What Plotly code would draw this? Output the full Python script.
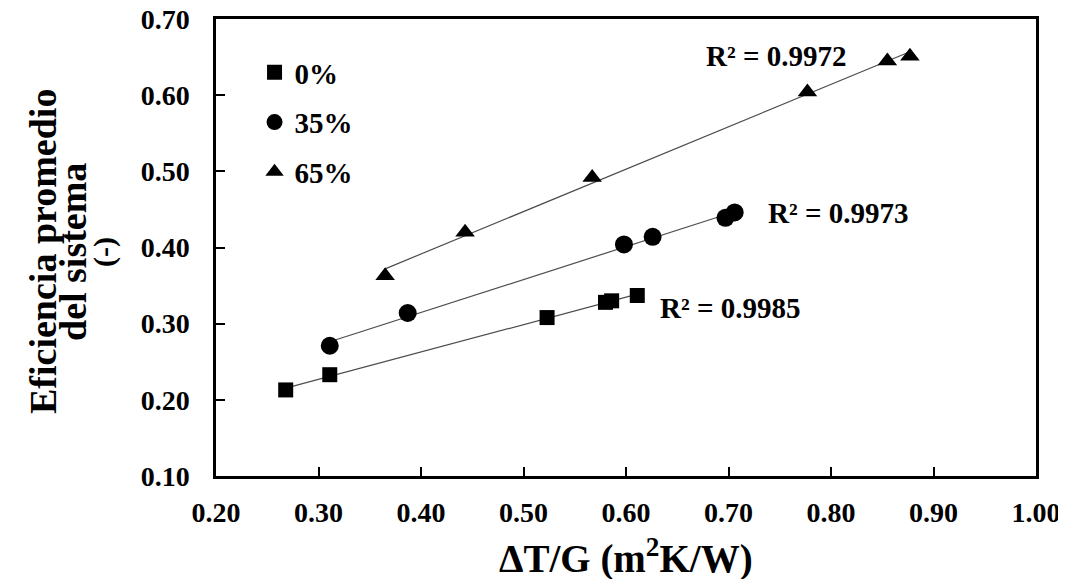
import numpy as np
import plotly.graph_objects as go

# ---- data ----
x_0 = [0.268, 0.311, 0.523, 0.580, 0.586, 0.611]
y_0 = [0.213, 0.233, 0.308, 0.328, 0.330, 0.337]

x_35 = [0.311, 0.387, 0.598, 0.626, 0.697, 0.706]
y_35 = [0.271, 0.314, 0.404, 0.414, 0.439, 0.446]

x_65 = [0.365, 0.443, 0.567, 0.777, 0.855, 0.877]
y_65 = [0.363, 0.420, 0.492, 0.604, 0.645, 0.651]

series_names = ["0%", "35%", "65%"]
r2_labels = ["R² = 0.9985", "R² = 0.9973", "R² = 0.9972"]
r2_pos = [(0.701, 0.320), (0.807, 0.445), (0.746, 0.651)]

x_ticks = [0.2, 0.3, 0.4, 0.5, 0.6, 0.7, 0.8, 0.9, 1.0]
y_ticks = [0.1, 0.2, 0.3, 0.4, 0.5, 0.6, 0.7]

FONT = "Liberation Serif, Times New Roman, serif"

fig = go.Figure()

series = [(x_0, y_0, "square", 15), (x_35, y_35, "circle", 18), (x_65, y_65, "triangle-up", 17)]

# trend lines (least-squares fit of each series)
for (xs, ys, sym, sz) in series:
    xs_a = np.array(xs)
    ys_a = np.array(ys)
    m, b = np.polyfit(xs_a, ys_a, 1)
    xl = np.array([xs_a.min(), xs_a.max()])
    fig.add_trace(go.Scatter(x=xl, y=m * xl + b, mode="lines",
                             line=dict(color="#4d4d4d", width=1.2),
                             showlegend=False, hoverinfo="skip"))

for i, (xs, ys, sym, sz) in enumerate(series):
    fig.add_trace(go.Scatter(x=xs, y=ys, mode="markers", name=series_names[i],
                             legendgroup=series_names[i],
                             marker=dict(symbol=sym, size=sz, color="black",
                                         line=dict(width=0))))

for lab, (ax, ay) in zip(r2_labels, r2_pos):
    fig.add_annotation(x=ax, y=ay, xref="x", yref="y", text=lab, showarrow=False,
                       font=dict(family=FONT, size=29, color="black", weight="bold"),
                       xanchor="center", yanchor="middle")

# plot area in page pixels: x 216..1036, y 19..476
PL, PW, PB, PH = 216, 820, 476, 457

# y axis title (three lines)
ytitle_lines = ["Eficiencia promedio", "del sistema", "(-)"]
ytitle_x_px = [43, 73, 104]
ytitle_sizes = [38, 38, 30]
for t, px, fs in zip(ytitle_lines, ytitle_x_px, ytitle_sizes):
    fig.add_annotation(x=(px - PL) / PW, y=(PB - 252) / PH, xref="paper", yref="paper",
                       text=t, textangle=-90, showarrow=False,
                       font=dict(family=FONT, size=fs, color="black", weight="bold"),
                       xanchor="center", yanchor="middle")

# x axis title
fig.add_annotation(x=0.5, y=(PB - 556) / PH, xref="paper", yref="paper",
                   text="ΔT/G (m<sup>2</sup>K/W)", showarrow=False,
                   font=dict(family=FONT, size=39, color="black", weight="bold"),
                   xanchor="center", yanchor="middle")

axis_common = dict(showgrid=False, zeroline=False, showline=True, linecolor="black",
                   linewidth=2.5, mirror=True, ticks="inside", ticklen=9, tickwidth=2,
                   tickcolor="black", automargin=False, ticklabeloverflow="allow",
                   tickfont=dict(family=FONT, size=28, color="black", weight="bold"))

fig.update_xaxes(range=[0.2, 1.0], tickvals=x_ticks,
                 ticktext=[f"{v:.2f}" for v in x_ticks], ticklabelstandoff=10,
                 **axis_common)
fig.update_yaxes(range=[0.1, 0.7], tickvals=y_ticks,
                 ticktext=[f"{v:.2f}" for v in y_ticks], ticklabelstandoff=18,
                 **axis_common)

# the page body adds an 8px offset, so margins are reduced by 8 on left/top
fig.update_layout(
    width=1066, height=579,
    margin=dict(l=208, r=38, t=11, b=111),
    plot_bgcolor="white", paper_bgcolor="white",
    font=dict(family=FONT, color="black"),
    legend=dict(x=0.047, y=(PB - 47) / PH, xanchor="left", yanchor="top",
                bgcolor="rgba(0,0,0,0)", traceorder="grouped", tracegroupgap=9,
                font=dict(family=FONT, size=29, color="black", weight="bold"),
                itemwidth=30),
)

fig.write_html("out.html")
